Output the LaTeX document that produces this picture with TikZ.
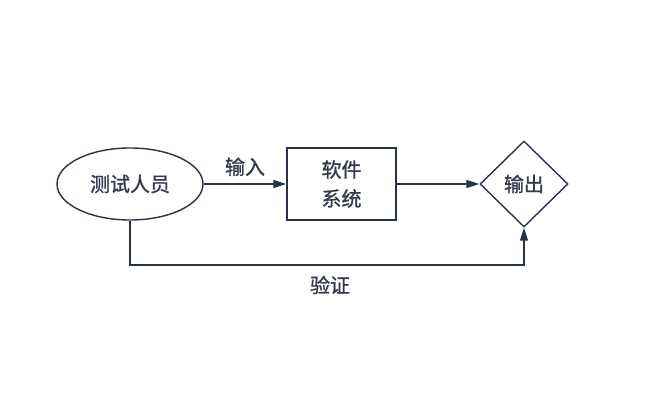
\documentclass[tikz,border=0pt]{standalone}
\usepackage{fontspec}
\setmainfont{Noto Sans CJK SC}
\newfontfamily\cjkmed[FakeBold=1.2]{Noto Sans CJK SC}
\usetikzlibrary{shapes.geometric,arrows.meta}
\definecolor{ink}{HTML}{27324A}
\definecolor{txt}{HTML}{343A4A}
\tikzset{
  line/.style={draw=ink, line width=1.4pt},
  arr/.style={line, -{Triangle[length=13pt,width=8pt]}},
  lbl/.style={text=txt, font=\cjkmed\fontsize{20}{29}\selectfont},
}
\begin{document}
\begin{tikzpicture}[x=1pt,y=1pt]
\useasboundingbox (0,0) rectangle (653,407);
\node[line, ellipse, minimum width=146pt, minimum height=72pt, inner sep=0pt, lbl] (tester) at (130,223) {测试人员};
\node[line, rectangle, minimum width=109pt, minimum height=72pt, inner sep=0pt, lbl, align=center] (sys) at (341.5,223) {软件\\系统};
\node[line, diamond, minimum width=88pt, minimum height=86pt, inner sep=0pt, aspect=1] (out) at (524,223) {};
\node[lbl] (outtxt) at (out.center) {输出};
\draw[arr] (tester.east) -- (sys.west) node[midway, above=4pt, lbl] (in) {输入};
\draw[arr] (sys.east) -- (out.west);
\coordinate (c1) at (130,142);
\coordinate (c2) at (524,142);
\draw[arr] (tester.south) -- (c1) -- (c2) -- (out.south);
\node[lbl] (ver) at (330,122) {验证};
\end{tikzpicture}
\end{document}
